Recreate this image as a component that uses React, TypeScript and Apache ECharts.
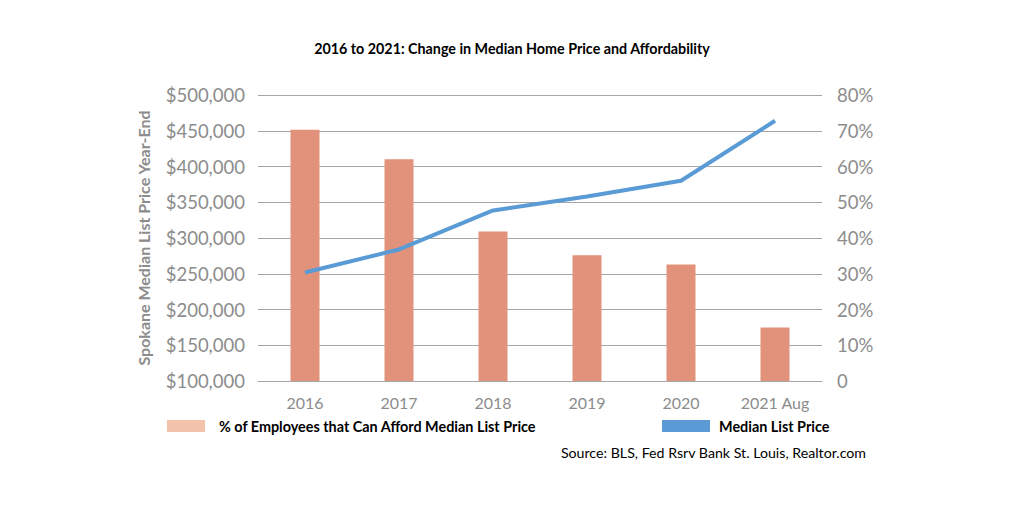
import React, { useEffect, useRef } from "react";
import * as echarts from "echarts";

const categories = ["2016", "2017", "2018", "2019", "2020", "2021 Aug"];
const affordPct = [70.3, 62.0, 41.8, 35.2, 32.6, 15.0];
const medianPrice = [251700, 284000, 338500, 358000, 380000, 464000];
const leftTicks = { min: 100000, max: 500000, interval: 50000 };
const rightTicks = { min: 0, max: 80, interval: 10 };

const FONT = "Lato";

export default function App() {
  const ref = useRef<HTMLDivElement>(null);
  useEffect(() => {
    const chart = echarts.init(ref.current!, null, { renderer: "svg" });
    chart.setOption({
      animation: false,
      backgroundColor: "#ffffff",
      textStyle: { fontFamily: FONT },
      title: {
        text: "2016 to 2021: Change in Median Home Price and Affordability",
        left: "center",
        top: 36,
        textStyle: { fontFamily: FONT, fontSize: 14.3, fontWeight: "bold", color: "#000" },
      },
      grid: { left: 258, right: 202, top: 95, bottom: 131, containLabel: false },
      xAxis: {
        type: "category",
        data: categories,
        axisLine: { lineStyle: { color: "#a6a6a6", width: 1 } },
        axisTick: { show: false },
        axisLabel: { color: "#8c8c8c", fontSize: 16, margin: 13, fontFamily: FONT },
      },
      yAxis: [
        {
          type: "value",
          min: leftTicks.min,
          max: leftTicks.max,
          interval: leftTicks.interval,
          position: "left",
          name: "Spokane Median List Price Year-End",
          nameLocation: "middle",
          nameRotate: 90,
          nameGap: 107,
          nameTextStyle: { color: "#8c8c8c", fontSize: 16, fontWeight: "bold", fontFamily: FONT },
          axisLine: { show: false },
          axisTick: { show: false },
          splitLine: { lineStyle: { color: "#a6a6a6", width: 1 } },
          axisLabel: {
            color: "#8c8c8c",
            fontSize: 18.5,
            margin: 13,
            fontFamily: FONT,
            formatter: (v: number) => "$" + v.toLocaleString("en-US"),
          },
        },
        {
          type: "value",
          min: rightTicks.min,
          max: rightTicks.max,
          interval: rightTicks.interval,
          position: "right",
          axisLine: { show: false },
          axisTick: { show: false },
          splitLine: { show: false },
          axisLabel: {
            color: "#8c8c8c",
            fontSize: 18.5,
            margin: 15,
            fontFamily: FONT,
            formatter: (v: number) => (v === 0 ? "0" : v + "%"),
          },
        },
      ],
      series: [
        {
          name: "% of Employees that Can Afford Median List Price",
          type: "bar",
          yAxisIndex: 1,
          data: affordPct,
          barWidth: 29,
          itemStyle: { color: "#e2917a" },
        },
        {
          name: "Median List Price",
          type: "line",
          yAxisIndex: 0,
          data: medianPrice,
          symbol: "none",
          lineStyle: { color: "#5b9bd5", width: 4 },
        },
      ],
      graphic: [
        { type: "rect", shape: { x: 167, y: 420, width: 38, height: 12 }, style: { fill: "#f4c3ac" } },
        {
          type: "text",
          x: 219,
          y: 426,
          style: {
            text: "% of Employees that Can Afford Median List Price",
            fontFamily: FONT,
            fontSize: 14.4,
            fontWeight: "bold",
            fill: "#000",
            verticalAlign: "middle",
          },
        },
        { type: "rect", shape: { x: 662, y: 420, width: 48, height: 12 }, style: { fill: "#5b9bd5" } },
        {
          type: "text",
          x: 719,
          y: 426,
          style: {
            text: "Median List Price",
            fontFamily: FONT,
            fontSize: 14.4,
            fontWeight: "bold",
            fill: "#000",
            verticalAlign: "middle",
          },
        },
        {
          type: "text",
          x: 866,
          y: 452,
          style: {
            text: "Source: BLS, Fed Rsrv Bank St. Louis, Realtor.com",
            fontFamily: FONT,
            fontSize: 14.2,
            fill: "#000",
            align: "right",
            verticalAlign: "middle",
          },
        },
      ],
    });
    return () => chart.dispose();
  }, []);
  return <div ref={ref} style={{ width: 1024, height: 512, position: "absolute", left: 0, top: 0 }} />;
}
